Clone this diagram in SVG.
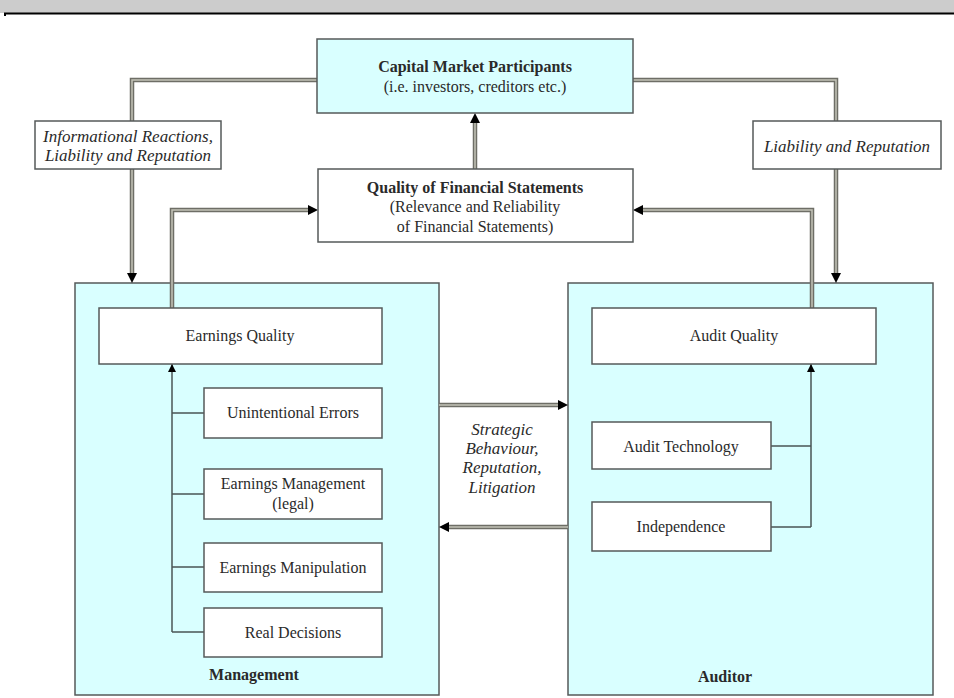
<svg xmlns="http://www.w3.org/2000/svg" width="954" height="698" viewBox="0 0 954 698">
<defs>
<marker id="ah" viewBox="0 0 10 10" refX="10" refY="5" markerWidth="10" markerHeight="10" markerUnits="userSpaceOnUse" orient="auto">
<path d="M0,0 L10,5 L0,10 Z" fill="#000"/>
</marker>
<marker id="ahs" viewBox="0 0 10 10" refX="10" refY="5" markerWidth="8" markerHeight="8" markerUnits="userSpaceOnUse" orient="auto">
<path d="M0,0 L10,5 L0,10 Z" fill="#000"/>
</marker>
<style>
.bar{fill:#cccccc}
.cont{fill:#d9ffff;stroke:#555a5a;stroke-width:1.5}
.box{fill:#ffffff;stroke:#555a5a;stroke-width:1.5}
.top{fill:#d9ffff;stroke:#555a5a;stroke-width:1.5}
.dblo{fill:none;stroke:#6e6e66;stroke-width:4.5}
.dbli{fill:none;stroke:#c4c4b8;stroke-width:1.5}
.thin{fill:none;stroke:#4a5656;stroke-width:1.5}
text{font-family:"Liberation Serif","Times New Roman",serif;fill:#2a2a2a;font-size:16px;text-anchor:middle}
.b{font-weight:bold}
.i{font-style:italic;font-size:17px}
</style>
</defs>
<rect class="bar" x="0" y="0" width="954" height="13"/>
<line x1="4" y1="13.5" x2="954" y2="13.5" stroke="#000" stroke-width="2"/>
<rect x="4" y="13" width="2" height="3" fill="#000"/>

<g id="management">
<rect class="cont" x="75" y="283" width="364" height="412"/>
<text class="b" x="254" y="680">Management</text>
</g>
<g id="auditor">
<rect class="cont" x="568" y="283" width="365" height="412"/>
<text class="b" x="725" y="682">Auditor</text>
</g>

<g id="connectors">
<path class="dblo" d="M317,80 H132 V273"/>
<path class="dbli" d="M317,80 H132 V273"/>
<path d="M132,273 V283" stroke="none" fill="none" marker-end="url(#ah)"/>
<path class="dblo" d="M633,80 H836 V273"/>
<path class="dbli" d="M633,80 H836 V273"/>
<path d="M836,273 V283" stroke="none" fill="none" marker-end="url(#ah)"/>
<path class="dblo" d="M475,169 V123"/>
<path class="dbli" d="M475,169 V123"/>
<path d="M475,123 V113" fill="none" marker-end="url(#ah)"/>
<path class="dblo" d="M172,308 V210 H308"/>
<path class="dbli" d="M172,308 V210 H308"/>
<path d="M308,210 H318" fill="none" marker-end="url(#ah)"/>
<path class="dblo" d="M812,308 V210 H643"/>
<path class="dbli" d="M812,308 V210 H643"/>
<path d="M643,210 H633" fill="none" marker-end="url(#ah)"/>
<path class="dblo" d="M439,405 H558"/>
<path class="dbli" d="M439,405 H558"/>
<path d="M558,405 H568" fill="none" marker-end="url(#ah)"/>
<path class="dblo" d="M568,527 H449"/>
<path class="dbli" d="M568,527 H449"/>
<path d="M449,527 H439" fill="none" marker-end="url(#ah)"/>
<path class="thin" d="M172,632 V364" marker-end="url(#ahs)"/>
<path class="thin" d="M172,413 H204 M172,494 H204 M172,567 H204 M172,632 H204"/>
<path class="thin" d="M771,446 H811 M771,527 H811 M811,527 V364" marker-end="url(#ahs)"/>
</g>

<g id="capital-market">
<rect class="top" x="317" y="39" width="316" height="74"/>
<text class="b" x="475" y="72">Capital Market Participants</text>
<text x="475" y="92">(i.e. investors, creditors etc.)</text>
</g>
<g id="quality-fs">
<rect class="box" x="318" y="169" width="315" height="73"/>
<text class="b" x="475" y="193">Quality of Financial Statements</text>
<text x="475" y="212">(Relevance and Reliability</text>
<text x="475" y="232">of Financial Statements)</text>
</g>
<g id="label-left">
<rect class="box" x="35" y="121" width="186" height="48"/>
<text class="i" x="128" y="142">Informational Reactions,</text>
<text class="i" x="128" y="161">Liability and Reputation</text>
</g>
<g id="label-right">
<rect class="box" x="753" y="121" width="188" height="48"/>
<text class="i" x="847" y="152">Liability and Reputation</text>
</g>
<g id="label-middle">
<text class="i" x="502" y="435">Strategic</text>
<text class="i" x="502" y="454">Behaviour,</text>
<text class="i" x="502" y="473">Reputation,</text>
<text class="i" x="502" y="493">Litigation</text>
</g>
<g id="earnings-quality">
<rect class="box" x="99" y="308" width="283" height="56"/>
<text x="240" y="341">Earnings Quality</text>
</g>
<g id="unintentional-errors">
<rect class="box" x="204" y="388" width="178" height="50"/>
<text x="293" y="418">Unintentional Errors</text>
</g>
<g id="earnings-management">
<rect class="box" x="204" y="469" width="178" height="50"/>
<text x="293" y="489">Earnings Management</text>
<text x="293" y="509">(legal)</text>
</g>
<g id="earnings-manipulation">
<rect class="box" x="204" y="543" width="178" height="49"/>
<text x="293" y="573">Earnings Manipulation</text>
</g>
<g id="real-decisions">
<rect class="box" x="204" y="608" width="178" height="49"/>
<text x="293" y="638">Real Decisions</text>
</g>
<g id="audit-quality">
<rect class="box" x="592" y="308" width="284" height="56"/>
<text x="734" y="341">Audit Quality</text>
</g>
<g id="audit-technology">
<rect class="box" x="592" y="422" width="179" height="47"/>
<text x="681" y="452">Audit Technology</text>
</g>
<g id="independence">
<rect class="box" x="592" y="502" width="179" height="49"/>
<text x="681" y="532">Independence</text>
</g>
</svg>
